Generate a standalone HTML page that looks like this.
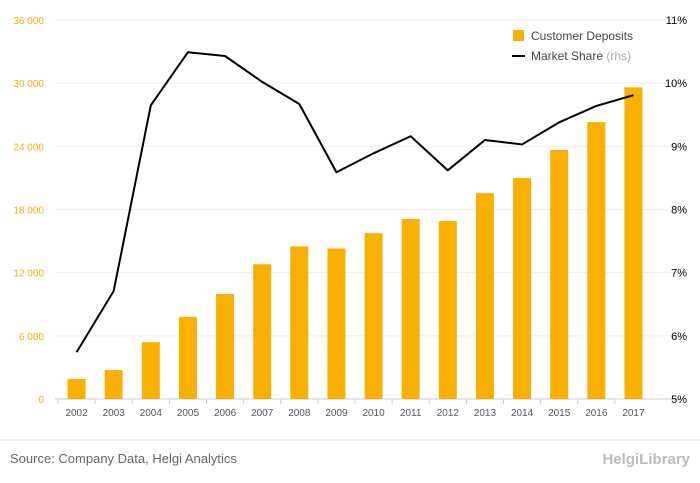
<!DOCTYPE html>
<html><head><meta charset="utf-8"><style>
body{margin:0;background:#fff;font-family:"Liberation Sans",sans-serif;}
svg{display:block}
</style></head><body>
<svg id="chart" width="700" height="483">
<rect x="0" y="0" width="700" height="483" fill="#fff"/>
<g id="grid"></g><g id="bars"></g><g id="line"></g><g id="axes"></g>
<g>
<rect x="513" y="30" width="11" height="11" fill="#f9b000"/>
<text x="531" y="40" font-size="12" fill="#444">Customer Deposits</text>
<line x1="512" y1="56" x2="525" y2="56" stroke="#000" stroke-width="2"/>
<text x="531" y="60" font-size="12" fill="#444">Market Share <tspan fill="#aaa">(rhs)</tspan></text>
</g>
<line x1="0" y1="440" x2="700" y2="440" stroke="#ddd"/>
<text x="10" y="463" font-size="13" fill="#666">Source: Company Data, Helgi Analytics</text>
<text x="690" y="464" font-size="15" fill="#bbb" text-anchor="end" font-weight="bold">HelgiLibrary</text>
</svg>
<script>
const years=["2002","2003","2004","2005","2006","2007","2008","2009","2010","2011","2012","2013","2014","2015","2016","2017"];
const deposits=[1900,2750,5400,7800,9970,12800,14500,14300,15750,17100,16900,19550,21000,23650,26300,29600];
const share=[5.74,6.71,9.65,10.49,10.43,10.02,9.67,8.59,8.89,9.16,8.62,9.10,9.03,9.38,9.64,9.81];
const leftTicks=[0,6000,12000,18000,24000,30000,36000];
const rightTicks=[5,6,7,8,9,10,11];
const NS="http://www.w3.org/2000/svg";
const x0=58,x1=652,yB=399,yT=20;
const yL=v=>yB-(v/36000)*(yB-yT);
const yR=v=>yB-((v-5)/6)*(yB-yT);
const step=(x1-x0)/years.length;
const xC=i=>x0+step*(i+0.5);
function mk(t,a,p){const e=document.createElementNS(NS,t);for(const k in a)e.setAttribute(k,a[k]);p.appendChild(e);return e;}
const g=document.getElementById('grid'),b=document.getElementById('bars'),l=document.getElementById('line'),ax=document.getElementById('axes');
const fmt=v=>v>=1000?String(Math.floor(v/1000))+" "+String(v%1000).padStart(3,"0"):String(v);
leftTicks.forEach(v=>{
 const ln=mk('line',{x1:55,x2:680,y1:yL(v),y2:yL(v),stroke:v===0?'#ccc':'#eee'},g);
 
 
 const t=mk('text',{x:44,y:yL(v)+4,'font-size':10,fill:'#f9b000','text-anchor':'end'},ax);t.textContent=fmt(v);
 
 
});
rightTicks.forEach(v=>{
 const t=mk('text',{x:687,y:yR(v)+4,'font-size':11,fill:'#000','text-anchor':'end'},ax);t.textContent=v+'%';
 
 
});
years.forEach((y,i)=>{
 const r=mk('rect',{x:xC(i)-9,y:yL(deposits[i]),width:18,height:yB-yL(deposits[i]),fill:'#f9b000'},b);
 
 
 const t=mk('text',{x:xC(i),y:416,'font-size':10,fill:'#555','text-anchor':'middle'},ax);t.textContent=y;
 
 
 const tk=mk('line',{x1:xC(i)-step/2,x2:xC(i)-step/2,y1:399,y2:404,stroke:'#ccc'},ax);
 
 
});
const p=mk('polyline',{points:share.map((v,i)=>xC(i)+','+yR(v)).join(' '),fill:'none',stroke:'#000','stroke-width':2,'stroke-linejoin':'round'},l);


</script>
</body></html>
